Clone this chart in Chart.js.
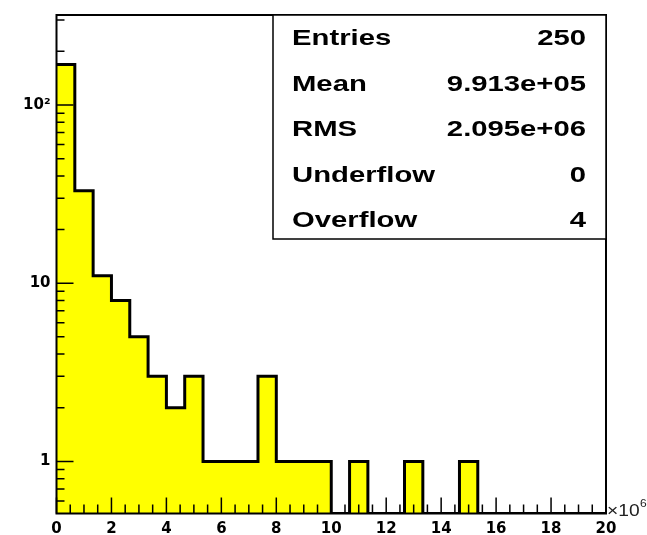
<!DOCTYPE html>
<html>
<head>
<meta charset="utf-8">
<script src="https://cdn.jsdelivr.net/npm/chart.js@4/dist/chart.umd.min.js"></script>
<style>
    body { margin: 0; background: #fff; }
    canvas { display: block; }
</style>
</head>
<body>
<canvas id="histCanvas" width="647" height="535"></canvas>
<script>
// histogram: 30 bins from 0 to 20 (x 10^6)
const xMin = 0
const xMax = 20
const nBins = 30
const binCounts = [169, 33, 11, 8, 5, 3, 2, 3, 1, 1, 1, 3, 1, 1, 1, 0, 1, 0, 0, 1, 0, 0, 1, 0, 0, 0, 0, 0, 0, 0]

const xTickValues = [0, 2, 4, 6, 8, 10, 12, 14, 16, 18, 20]
const yTickValues = [1, 10, 100]
const yTickLabels = ['1', '10', '10²']
const yMin = 0.51
const yMax = 320

const statLabels = ['Entries', 'Mean', 'RMS', 'Underflow', 'Overflow']
const statValues = ['250', '9.913e+05', '2.095e+06', '0', '4']

const helvetica = '"Liberation Sans", Arial, sans-serif'
const tickFont = '"DejaVu Sans", sans-serif'

const binWidth = (xMax - xMin) / nBins
const stepPoints = binCounts.map((c, i) => ({x: xMin + i * binWidth, y: c > 0 ? c : yMin}))
stepPoints.push({x: xMax, y: stepPoints[stepPoints.length - 1].y})

// the ROOT text is wider than plain Helvetica, so stretch it sideways
function stretchedText(ctx, text, x, y, align, sx){
    ctx.save()
    ctx.translate(x, y)
    ctx.scale(sx, 1)
    ctx.textAlign = align
    ctx.fillText(text, 0, 0)
    ctx.restore()
}

const rootFramePlugin = {
    id: 'rootFrame',
    afterDatasetsDraw(chart) {
        const {ctx, chartArea, scales} = chart
        const {left, right, top, bottom} = chartArea
        ctx.save()
        ctx.strokeStyle = '#000'
        ctx.lineWidth = 1.5

        // x ticks, drawn inside the frame
        ctx.beginPath()
        for (let v = xMin; v <= xMax + 1e-9; v += 0.5) {
            const px = scales.x.getPixelForValue(v)
            const len = xTickValues.includes(v) ? 16 : 9
            ctx.moveTo(px, bottom)
            ctx.lineTo(px, bottom - len)
        }
        // y ticks (log)
        for (let k = -1; k <= 3; k++) {
            for (let i = 1; i <= 9; i++) {
                const v = i * Math.pow(10, k)
                if (v < yMin || v > yMax) continue
                const py = scales.y.getPixelForValue(v)
                const len = i === 1 ? 17 : 8
                ctx.moveTo(left, py)
                ctx.lineTo(left + len, py)
            }
        }
        ctx.stroke()

        ctx.lineWidth = 2
        ctx.strokeRect(left, top, right - left, bottom - top)

        // x10^6 exponent label
        ctx.fillStyle = '#222'
        ctx.textBaseline = 'alphabetic'
        ctx.font = `16px ${helvetica}`
        stretchedText(ctx, '×10', right + 1, bottom + 2, 'left', 1.2)
        ctx.font = `10px ${helvetica}`
        stretchedText(ctx, '6', right + 34, bottom - 7, 'left', 1.2)

        // stats box
        const boxLeft = 273
        const boxBottom = 239
        ctx.fillStyle = '#fff'
        ctx.fillRect(boxLeft, top, right - boxLeft, boxBottom - top)
        ctx.lineWidth = 1.5
        ctx.strokeRect(boxLeft, top, right - boxLeft, boxBottom - top)

        ctx.fillStyle = '#000'
        ctx.font = `bold 22px ${helvetica}`
        statLabels.forEach((label, i) => {
            const baseY = 45 + i * 45.5
            stretchedText(ctx, label, 292, baseY, 'left', 1.33)
            stretchedText(ctx, statValues[i], 586, baseY, 'right', 1.33)
        })
        ctx.restore()
    }
}

const histChart = new Chart(document.getElementById('histCanvas').getContext('2d'), {
    type: 'line',
    data: {
        datasets: [{
            data: stepPoints,
            stepped: true,
            borderColor: '#000',
            borderWidth: 3,
            backgroundColor: '#ffff00',
            fill: 'start',
            pointRadius: 0,
            tension: 0
        }]
    },
    options: {
        responsive: false,
        animation: false,
        layout: {padding: {top: 10, right: 41, left: 0, bottom: 0}},
        scales: {
            x: {
                type: 'linear',
                min: xMin,
                max: xMax,
                afterBuildTicks: scale => { scale.ticks = xTickValues.map(v => ({value: v})) },
                afterFit: scale => { scale.height = 21.5 },
                grid: {display: false, drawTicks: false},
                border: {display: false},
                ticks: {
                    autoSkip: false,
                    maxRotation: 0,
                    padding: 7,
                    color: '#000',
                    font: {family: tickFont, size: 15, weight: 'bold'},
                    callback: value => String(value)
                }
            },
            y: {
                type: 'logarithmic',
                min: yMin,
                max: yMax,
                afterBuildTicks: scale => { scale.ticks = yTickValues.map(v => ({value: v})) },
                afterFit: scale => { scale.width = 56.5 },
                grid: {display: false, drawTicks: false},
                border: {display: false},
                ticks: {
                    padding: 6,
                    color: '#000',
                    font: {family: tickFont, size: 15, weight: 'bold'},
                    callback: value => yTickLabels[yTickValues.indexOf(value)] ?? ''
                }
            }
        },
        plugins: {
            legend: {display: false},
            tooltip: {enabled: false}
        }
    },
    plugins: [rootFramePlugin]
})
</script>
</body>
</html>
